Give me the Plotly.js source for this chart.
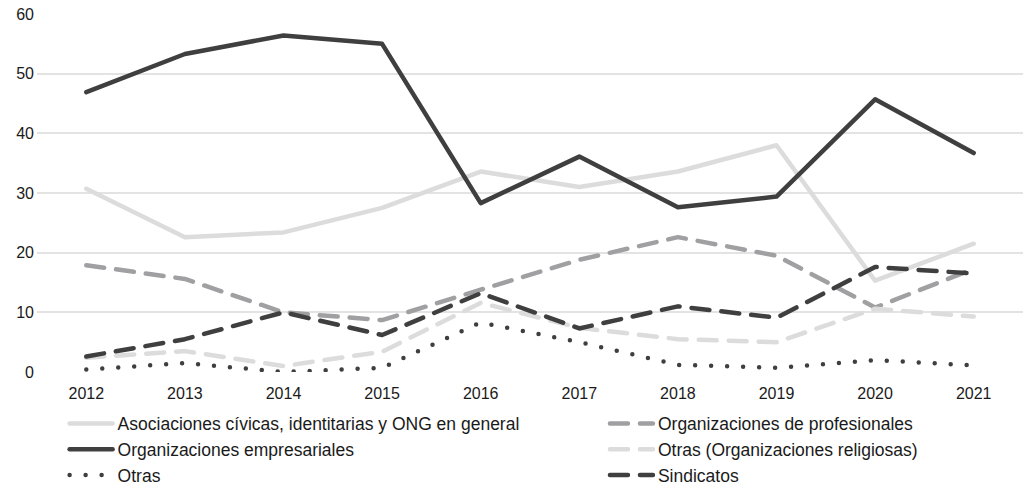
<!DOCTYPE html>
<html><head><meta charset="utf-8">
<script src="https://cdn.plot.ly/plotly-3.0.1.min.js"></script>
<style>
html,body{margin:0;padding:0;background:#fff;}
#chart{width:1023px;height:487px;}
.js-line{stroke-linecap:round;stroke-linejoin:round;}
</style></head>
<body><div id="chart"></div>
<script>
const years = ['2012','2013','2014','2015','2016','2017','2018','2019','2020','2021'];
const asociaciones = [30.7, 22.6, 23.4, 27.5, 33.6, 31.0, 33.6, 38.0, 15.3, 21.5];
const profesionales = [17.9, 15.6, 10.0, 8.7, 13.8, 18.8, 22.6, 19.5, 10.8, 17.3];
const empresariales = [46.9, 53.3, 56.4, 55.0, 28.3, 36.1, 27.6, 29.4, 45.7, 36.7];
const religiosas = [2.4, 3.5, 1.0, 3.4, 11.6, 7.4, 5.5, 5.0, 10.6, 9.3];
const otras = [0.4, 1.5, 0.0, 0.7, 8.3, 5.0, 1.2, 0.7, 2.0, 1.1];
const sindicatos = [2.6, 5.5, 10.0, 6.2, 13.2, 7.3, 11.0, 9.1, 17.6, 16.5];

const names = ['Asociaciones cívicas, identitarias y ONG en general','Organizaciones de profesionales','Organizaciones empresariales','Otras (Organizaciones religiosas)','Otras','Sindicatos'];
const series = [asociaciones, profesionales, empresariales, religiosas, otras, sindicatos];
const legendIds = ['legend','legend2','legend','legend2','legend','legend2'];
const styles = [
  {color:'#dcdcdd', width:4.5, dash:'solid'},
  {color:'#a0a0a3', width:4.5, dash:'18px,12px'},
  {color:'#3f3f40', width:4.5, dash:'solid'},
  {color:'#dcdcdd', width:4.5, dash:'18px,12px'},
  {color:'#3f3f40', width:4.5, dash:'0px,16px'},
  {color:'#3f3f40', width:4.5, dash:'18px,12px'}
];
const data = series.map((v,i)=>({
  type:'scatter', mode:'lines', x:years, y:v, name:names[i], legend:legendIds[i],
  line:styles[i], cliponaxis:false, hoverinfo:'skip'
}));
const legBase = {orientation:'v', y:-0.094, yanchor:'top', xanchor:'left', font:{size:17.5}, tracegroupgap:0, itemwidth:43, traceorder:'normal', bgcolor:'rgba(0,0,0,0)', borderwidth:0, maxheight:300};
const layout = {
  width:1023, height:487,
  margin:{l:37, r:0, t:14, b:115, autoexpand:false},
  paper_bgcolor:'#fff', plot_bgcolor:'#fff',
  font:{family:'Liberation Sans, Arial, sans-serif', size:16, color:'#1a1a1a'},
  showlegend:true,
  xaxis:{type:'category', range:[-0.5,9.5], showgrid:false, zeroline:false, showline:false, ticks:'', tickfont:{size:16}, ticklabelstandoff:10},
  yaxis:{range:[0,60], dtick:10, showgrid:true, gridcolor:'#e3e3e3', gridwidth:2, zeroline:false, showline:false, ticks:'', tickfont:{size:16}, ticklabelstandoff:2},
  legend:Object.assign({}, legBase, {x:0.028}),
  legend2:Object.assign({}, legBase, {x:0.576})
};
Plotly.newPlot('chart', data, layout, {displayModeBar:false, staticPlot:true});
</script></body></html>
